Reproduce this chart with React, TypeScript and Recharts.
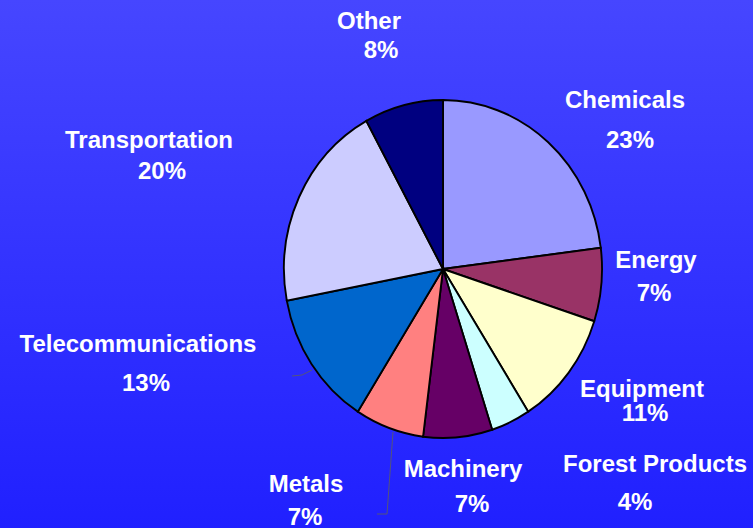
import { PieChart, Pie, Cell } from "recharts"

const sectors = ["Chemicals", "Energy", "Equipment", "Forest Products", "Machinery", "Metals", "Telecommunications", "Transportation", "Other"]
const shares = [23, 7, 11, 4, 7, 7, 13, 20, 8]
const colors = ["#9999ff", "#993366", "#ffffcc", "#ccffff", "#660066", "#ff8080", "#0066cc", "#ccccff", "#000080"]

const data = sectors.map((name, i) => ({ name, value: shares[i], color: colors[i] }))

// label placement: [nameX, nameY, pctX, pctY] (text centre, baseline)
const labelPos: number[][] = [
  [625, 108, 630, 148],
  [656, 268, 654, 301],
  [642, 397, 645, 421],
  [655, 472, 635, 510],
  [463, 477, 472, 512],
  [306, 492, 305, 525],
  [138, 352, 146, 391],
  [149, 148, 162, 179],
  [369, 29, 381, 58],
]

const leaders: Record<number, string> = {
  5: "393,432 387,514 377,514",
  6: "312,370 302,375 292,376",
}

const W = 753
const H = 528
const CX = 443
const CY = 269
const R = 169

const renderLabel = (props: any) => {
  const i = props.index
  const p = labelPos[i]
  const txt = { fill: "#fff", fontFamily: "'Liberation Sans', Arial, sans-serif", fontWeight: 700, fontSize: 24, textAnchor: "middle" as const }
  return (
    <g key={`lbl-${i}`}>
      {leaders[i] && <polyline points={leaders[i]} fill="none" stroke="#55557a" strokeWidth={1} />}
      <text x={p[0]} y={p[1]} {...txt}>{props.name}</text>
      <text x={p[2]} y={p[3]} {...txt}>{props.value}%</text>
    </g>
  )
}

export default function App() {
  return (
    <div style={{ position: "absolute", left: 0, top: 0, width: W, height: H, background: "linear-gradient(180deg, #4646ff 0%, #2020ff 100%)", overflow: "hidden" }}>
      <style>{`path.recharts-sector{transform-box:view-box;transform:scaleX(0.941);transform-origin:${CX}px ${CY}px;}`}</style>
      <PieChart width={W} height={H} margin={{ top: 0, right: 0, bottom: 0, left: 0 }}>
        <Pie
          data={data}
          dataKey="value"
          nameKey="name"
          cx={CX}
          cy={CY}
          outerRadius={R}
          startAngle={90}
          endAngle={-270}
          stroke="#000"
          strokeWidth={2}
          label={renderLabel}
          labelLine={false}
          isAnimationActive={false}
        >
          {data.map((d, i) => (
            <Cell key={`cell-${i}`} fill={d.color} />
          ))}
        </Pie>
      </PieChart>
    </div>
  )
}
